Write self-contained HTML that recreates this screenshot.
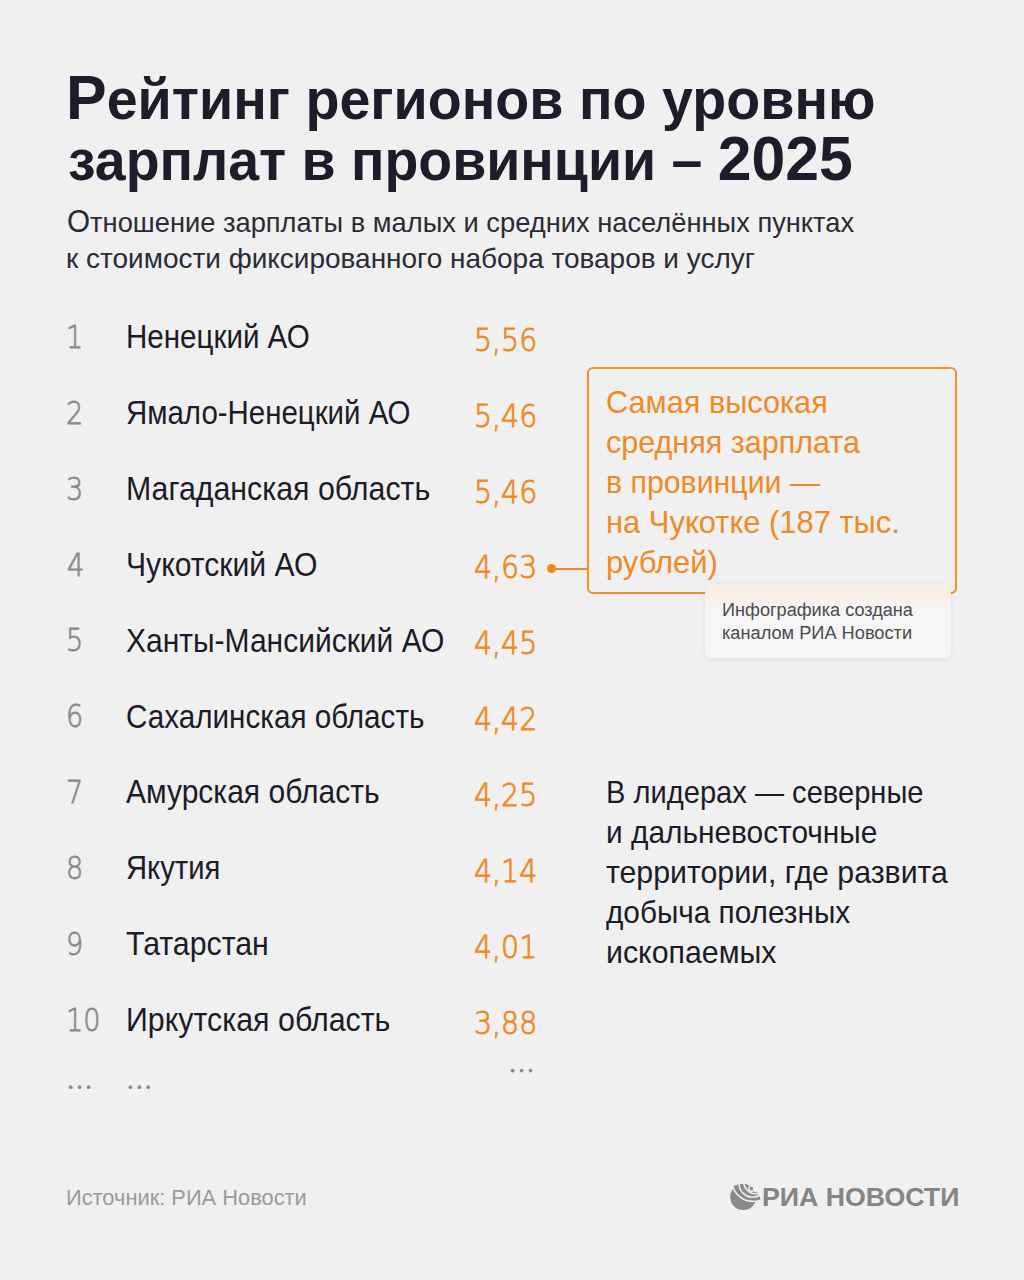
<!DOCTYPE html>
<html lang="ru">
<head>
<meta charset="utf-8">
<title>Рейтинг регионов по уровню зарплат в провинции – 2025</title>
<style>
html,body{margin:0;padding:0;}
body{width:1024px;height:1280px;background:#f0f0f0;position:relative;overflow:hidden;font-family:"Liberation Sans",sans-serif;}
.t{position:absolute;white-space:nowrap;}
.ti{font-weight:bold;color:#1c1c2a;}
.su{color:#2b2b36;}
.rk{color:#8a8a8a;font-family:"DejaVu Sans",sans-serif;font-weight:200;-webkit-text-stroke:0.8px #8a8a8a;}
.nm{color:#1c1c28;}
.vl{color:#ee8a22;font-family:"DejaVu Sans",sans-serif;font-weight:200;-webkit-text-stroke:0.9px #ee8a22;}
.bx{color:#ef8a25;}
.in{color:#4a4a50;}
.rt{color:#1c1c28;}
.sr{color:#9a9a9a;}
.lg{color:#858585;font-weight:bold;}
.box{position:absolute;left:587px;top:367px;width:366px;height:223px;border:2px solid #f0902a;border-radius:6px;}
.info{position:absolute;left:705px;top:583.5px;width:246px;height:74px;background:linear-gradient(#f7f0e8 0px,#f8eee3 9px,#f7f1eb 17px,#f6f5f4 25px,#f6f6f6 32px,#f6f6f6);border-radius:7px;box-shadow:0 1px 6px rgba(0,0,0,0.07);}
.conn{position:absolute;left:552px;top:567.5px;width:36px;height:2px;background:#f08a1c;}
.dot{position:absolute;left:547px;top:564px;width:9px;height:9px;border-radius:50%;background:#f28a12;}
.ell{position:absolute;left:0;top:0;}
.logo-ic{position:absolute;left:728px;top:1182px;}
.bc{font-size:63.5px;line-height:0;}
.sc{font-size:31px;line-height:0;}

</style>
</head>
<body>
<div class="box"></div>
<div class="conn"></div>
<div class="dot"></div>
<div class="info"></div>
<svg class="ell" width="1024" height="1280" viewBox="0 0 1024 1280" fill="#8a8a8a"><circle cx="70.7" cy="1087.2" r="1.85"/><circle cx="79.6" cy="1087.2" r="1.85"/><circle cx="88.6" cy="1087.2" r="1.85"/><circle cx="130.4" cy="1087.2" r="1.85"/><circle cx="139.4" cy="1087.2" r="1.85"/><circle cx="148.3" cy="1087.2" r="1.85"/><circle cx="512.7" cy="1070.6" r="1.85"/><circle cx="521.6" cy="1070.6" r="1.85"/><circle cx="530.5" cy="1070.6" r="1.85"/></svg>
<svg class="logo-ic" width="36" height="32" viewBox="0 0 36 32">
<defs><clipPath id="sil"><circle cx="14.05" cy="20.9" r="18.8"/></clipPath></defs>
<circle cx="15.27" cy="15" r="13.1" fill="#8a8a8a"/>
<g clip-path="url(#sil)"><circle cx="25" cy="-1.7" r="21.1" fill="#8a8a8a"/></g>
<g fill="none" stroke="#f0f0f0">
<circle cx="25" cy="-1.7" r="21.1" stroke-width="1.6"/>
<circle cx="24.6" cy="1.5" r="13.6" stroke-width="1.5"/>
<circle cx="28" cy="-0.5" r="12.44" stroke-width="1.5"/>
<circle cx="23.5" cy="6.6" r="2.7" stroke-width="1.4"/>
<circle cx="28.6" cy="6.8" r="3.7" fill="#f0f0f0" stroke="none"/>
</g>
</svg>

<div class="t ti" style="left:66.16px;top:63.40px;font-size:58px;line-height:72px;transform:scale(0.9592,1.0000);transform-origin:left 56.1px;"><span class="bc">Р</span>ейтинг регионов по уровню</div>
<div class="t ti" style="left:68.04px;top:124.40px;font-size:58px;line-height:72px;transform:scale(0.9556,1.0000);transform-origin:left 56.1px;">зарплат в провинции – <span class="bc">2025</span></div>
<div class="t su" style="left:67.04px;top:204.12px;font-size:28.5px;line-height:36px;transform:scale(0.9573,1.0000);transform-origin:left 27.9px;"><span class="sc">О</span>тношение зарплаты в малых и средних населённых пунктах</div>
<div class="t su" style="left:66.04px;top:239.62px;font-size:28.5px;line-height:36px;transform:scale(0.9814,1.0000);transform-origin:left 27.9px;">к стоимости фиксированного набора товаров и услуг</div>
<div class="t rk" style="left:65.56px;top:316.84px;font-size:32.2px;line-height:40px;transform:scale(0.8400,1.0000);transform-origin:left 31.2px;">1</div>
<div class="t nm" style="left:126.07px;top:316.07px;font-size:33px;line-height:41px;transform:scale(0.8955,1.0000);transform-origin:left 31.9px;">Ненецкий АО</div>
<div class="t vl" style="right:486.40px;top:319.71px;font-size:32px;line-height:40px;transform:scale(0.8880,1.0000);transform-origin:right 31.1px;">5,56</div>
<div class="t rk" style="left:66.40px;top:392.74px;font-size:32.2px;line-height:40px;transform:scale(0.8400,1.0000);transform-origin:left 31.2px;">2</div>
<div class="t nm" style="left:126.07px;top:391.97px;font-size:33px;line-height:41px;transform:scale(0.8921,1.0000);transform-origin:left 31.9px;">Ямало-Ненецкий АО</div>
<div class="t vl" style="right:486.40px;top:395.61px;font-size:32px;line-height:40px;transform:scale(0.8880,1.0000);transform-origin:right 31.1px;">5,46</div>
<div class="t rk" style="left:66.40px;top:468.64px;font-size:32.2px;line-height:40px;transform:scale(0.8400,1.0000);transform-origin:left 31.2px;">3</div>
<div class="t nm" style="left:126.07px;top:467.87px;font-size:33px;line-height:41px;transform:scale(0.9194,1.0000);transform-origin:left 31.9px;">Магаданская область</div>
<div class="t vl" style="right:486.40px;top:471.51px;font-size:32px;line-height:40px;transform:scale(0.8880,1.0000);transform-origin:right 31.1px;">5,46</div>
<div class="t rk" style="left:67.24px;top:544.54px;font-size:32.2px;line-height:40px;transform:scale(0.8400,1.0000);transform-origin:left 31.2px;">4</div>
<div class="t nm" style="left:126.07px;top:543.77px;font-size:33px;line-height:41px;transform:scale(0.9134,1.0000);transform-origin:left 31.9px;">Чукотский АО</div>
<div class="t vl" style="right:486.40px;top:547.41px;font-size:32px;line-height:40px;transform:scale(0.8880,1.0000);transform-origin:right 31.1px;">4,63</div>
<div class="t rk" style="left:65.56px;top:620.44px;font-size:32.2px;line-height:40px;transform:scale(0.8400,1.0000);transform-origin:left 31.2px;">5</div>
<div class="t nm" style="left:126.07px;top:619.67px;font-size:33px;line-height:41px;transform:scale(0.9091,1.0000);transform-origin:left 31.9px;">Ханты-Мансийский АО</div>
<div class="t vl" style="right:486.40px;top:623.31px;font-size:32px;line-height:40px;transform:scale(0.8880,1.0000);transform-origin:right 31.1px;">4,45</div>
<div class="t rk" style="left:65.56px;top:696.34px;font-size:32.2px;line-height:40px;transform:scale(0.8400,1.0000);transform-origin:left 31.2px;">6</div>
<div class="t nm" style="left:126.07px;top:695.57px;font-size:33px;line-height:41px;transform:scale(0.8984,1.0000);transform-origin:left 31.9px;">Сахалинская область</div>
<div class="t vl" style="right:486.40px;top:699.21px;font-size:32px;line-height:40px;transform:scale(0.8880,1.0000);transform-origin:right 31.1px;">4,42</div>
<div class="t rk" style="left:66.40px;top:772.24px;font-size:32.2px;line-height:40px;transform:scale(0.8400,1.0000);transform-origin:left 31.2px;">7</div>
<div class="t nm" style="left:126.07px;top:771.47px;font-size:33px;line-height:41px;transform:scale(0.9096,1.0000);transform-origin:left 31.9px;">Амурская область</div>
<div class="t vl" style="right:486.40px;top:775.11px;font-size:32px;line-height:40px;transform:scale(0.8880,1.0000);transform-origin:right 31.1px;">4,25</div>
<div class="t rk" style="left:65.56px;top:848.14px;font-size:32.2px;line-height:40px;transform:scale(0.8400,1.0000);transform-origin:left 31.2px;">8</div>
<div class="t nm" style="left:126.07px;top:847.37px;font-size:33px;line-height:41px;transform:scale(0.8847,1.0000);transform-origin:left 31.9px;">Якутия</div>
<div class="t vl" style="right:486.40px;top:851.01px;font-size:32px;line-height:40px;transform:scale(0.8880,1.0000);transform-origin:right 31.1px;">4,14</div>
<div class="t rk" style="left:65.56px;top:924.04px;font-size:32.2px;line-height:40px;transform:scale(0.8400,1.0000);transform-origin:left 31.2px;">9</div>
<div class="t nm" style="left:126.07px;top:923.27px;font-size:33px;line-height:41px;transform:scale(0.9175,1.0000);transform-origin:left 31.9px;">Татарстан</div>
<div class="t vl" style="right:486.40px;top:926.91px;font-size:32px;line-height:40px;transform:scale(0.8880,1.0000);transform-origin:right 31.1px;">4,01</div>
<div class="t rk" style="left:65.56px;top:999.94px;font-size:32.2px;line-height:40px;transform:scale(0.8400,1.0000);transform-origin:left 31.2px;">10</div>
<div class="t nm" style="left:126.07px;top:999.17px;font-size:33px;line-height:41px;transform:scale(0.9202,1.0000);transform-origin:left 31.9px;">Иркутская область</div>
<div class="t vl" style="right:486.40px;top:1002.81px;font-size:32px;line-height:40px;transform:scale(0.8880,1.0000);transform-origin:right 31.1px;">3,88</div>
<div class="t bx" style="left:605.67px;top:382.41px;font-size:32px;line-height:40px;transform:scale(0.9590,1.0000);transform-origin:left 31.1px;">Самая высокая</div>
<div class="t bx" style="left:605.67px;top:422.41px;font-size:32px;line-height:40px;transform:scale(0.9536,1.0000);transform-origin:left 31.1px;">средняя зарплата</div>
<div class="t bx" style="left:605.67px;top:462.41px;font-size:32px;line-height:40px;transform:scale(0.9464,1.0000);transform-origin:left 31.1px;">в провинции —</div>
<div class="t bx" style="left:605.67px;top:502.41px;font-size:32px;line-height:40px;transform:scale(0.9656,1.0000);transform-origin:left 31.1px;">на Чукотке (187 тыс.</div>
<div class="t bx" style="left:605.67px;top:542.41px;font-size:32px;line-height:40px;transform:scale(0.9669,1.0000);transform-origin:left 31.1px;">рублей)</div>
<div class="t in" style="left:721.59px;top:599.26px;font-size:18px;line-height:22px;transform:scale(1.0059,1.0000);transform-origin:left 17.2px;">Инфографика создана</div>
<div class="t in" style="left:721.59px;top:621.66px;font-size:18px;line-height:22px;transform:scale(1.0114,1.0000);transform-origin:left 17.2px;">каналом РИА Новости</div>
<div class="t rt" style="left:605.84px;top:771.81px;font-size:32px;line-height:40px;transform:scale(0.9095,1.0000);transform-origin:left 31.1px;">В лидерах — северные</div>
<div class="t rt" style="left:605.84px;top:811.81px;font-size:32px;line-height:40px;transform:scale(0.9326,1.0000);transform-origin:left 31.1px;">и дальневосточные</div>
<div class="t rt" style="left:605.84px;top:851.81px;font-size:32px;line-height:40px;transform:scale(0.9460,1.0000);transform-origin:left 31.1px;">территории, где развита</div>
<div class="t rt" style="left:605.84px;top:891.81px;font-size:32px;line-height:40px;transform:scale(0.9294,1.0000);transform-origin:left 31.1px;">добыча полезных</div>
<div class="t rt" style="left:605.84px;top:931.81px;font-size:32px;line-height:40px;transform:scale(0.9469,1.0000);transform-origin:left 31.1px;">ископаемых</div>
<div class="t sr" style="left:66.21px;top:1183.78px;font-size:22px;line-height:28px;transform:scale(0.9925,1.0000);transform-origin:left 21.6px;">Источник: РИА Новости</div>
<div class="t lg" style="left:761.90px;top:1181.94px;font-size:25px;line-height:31px;transform:scale(1.0687,1.0000);transform-origin:left 24.2px;">РИА НОВОСТИ</div>
</body>
</html>
